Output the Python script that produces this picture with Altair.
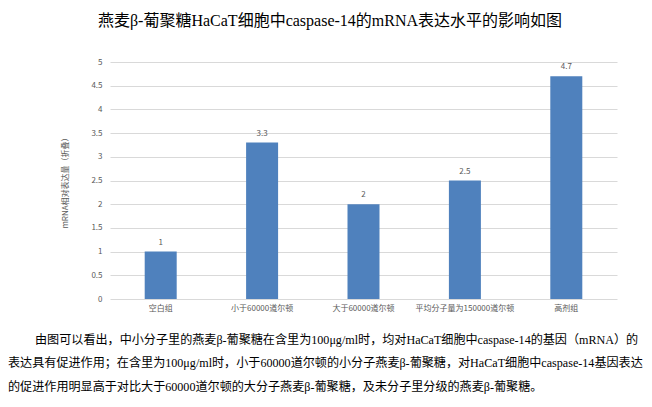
import altair as alt
import pandas as pd

categories = ["空白组", "小于60000道尔顿", "大于60000道尔顿", "平均分子量为150000道尔顿", "高剂组"]
values = [1, 3.3, 2, 2.5, 4.7]
y_ticks = [0, 0.5, 1, 1.5, 2, 2.5, 3, 3.5, 4, 4.5, 5]

title_text = "燕麦β-葡聚糖HaCaT细胞中caspase-14的mRNA表达水平的影响如图"
y_title = "mRNA相对表达量（折叠）"
para_lines = [
    "由图可以看出，中小分子里的燕麦β-葡聚糖在含里为100μg/ml时，均对HaCaT细胞中caspase-14的基因（mRNA）的",
    "表达具有促进作用；在含里为100μg/ml时，小于60000道尔顿的小分子燕麦β-葡聚糖，对HaCaT细胞中caspase-14基因表达",
    "的促进作用明显高于对比大于60000道尔顿的大分子燕麦β-葡聚糖，及未分子里分级的燕麦β-葡聚糖。",
]

df = pd.DataFrame({"cat": categories, "val": values})

W, H = 507, 237
SANS = "Noto Sans CJK SC"
SERIF = "Liberation Serif, Noto Sans CJK SC"

x_scale = alt.Scale(domain=categories, paddingInner=0, paddingOuter=0)
y_scale = alt.Scale(domain=[0, 5], nice=False)
x_axis = alt.Axis(labelAngle=0, ticks=False, domain=False,
                  labelFont=SANS, labelFontSize=8, labelColor="#595959",
                  labelPadding=5, grid=False)
y_axis = alt.Axis(values=y_ticks, format="~g", ticks=False, domain=False,
                  grid=True, gridColor="#d9d9d9", labelOverlap=False,
                  labelFont=SANS, labelFontSize=8,
                  labelColor="#595959", labelPadding=8,
                  titleFont=SANS, titleFontSize=8, titleColor="#595959",
                  titleFontWeight="normal", titlePadding=21)

x_enc = alt.X("cat:N", sort=categories, title=None, scale=x_scale, axis=x_axis)
y_enc = alt.Y("val:Q", title=y_title, scale=y_scale, axis=y_axis)

bars = alt.Chart(df).mark_bar(size=32, color="#4F81BD").encode(x=x_enc, y=y_enc)
labels = alt.Chart(df).mark_text(dy=-9, font=SANS, fontSize=8, color="#595959").encode(
    x=x_enc, y=y_enc, text=alt.Text("val:Q", format="~g"))

title = alt.Chart(alt.Data(values=[{"t": title_text}])).mark_text(
    font=SERIF, fontSize=16, color="#000000", align="center", baseline="middle"
).encode(x=alt.value(220), y=alt.value(-41), text="t:N")

FS = 12.1
p1 = alt.Chart(alt.Data(values=[{"t": para_lines[0]}])).mark_text(
    font=SERIF, fontSize=FS, color="#000000", align="left", baseline="middle"
).encode(x=alt.value(-75), y=alt.value(278), text="t:N")
p2 = alt.Chart(alt.Data(values=[{"t": para_lines[1]}])).mark_text(
    font=SERIF, fontSize=FS, color="#000000", align="left", baseline="middle"
).encode(x=alt.value(-102), y=alt.value(301), text="t:N")
p3 = alt.Chart(alt.Data(values=[{"t": para_lines[2]}])).mark_text(
    font=SERIF, fontSize=FS, color="#000000", align="left", baseline="middle"
).encode(x=alt.value(-102), y=alt.value(325), text="t:N")

chart = alt.layer(bars, labels, title, p1, p2, p3).properties(
    width=W, height=H,
    background="white",
    autosize=alt.AutoSizeParams(type="none"),
    padding={"left": 102, "top": 54, "right": 27, "bottom": 100},
).configure(
    view=alt.ViewConfig(stroke=None, strokeWidth=0, strokeOpacity=0),
).configure_axis(domain=False).configure_axisX(grid=False, domain=False)

chart.save("out.html", embed_options={"renderer": "svg", "actions": False})
